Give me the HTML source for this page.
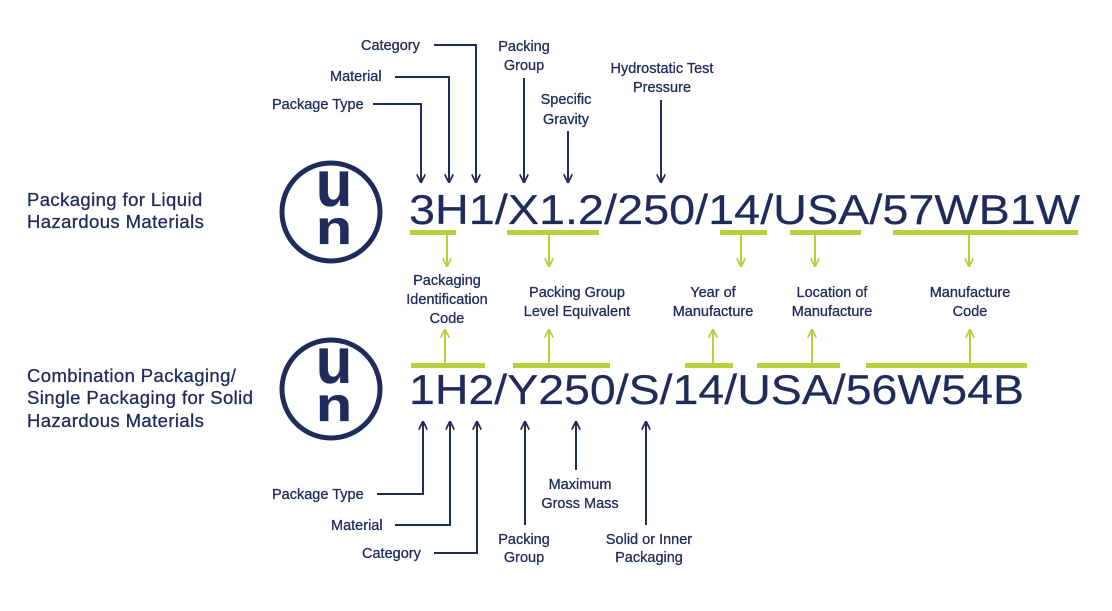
<!DOCTYPE html>
<html><head><meta charset="utf-8"><style>
html,body{margin:0;padding:0;background:#fff;}
svg{display:block;}
text{font-family:"Liberation Sans",sans-serif;fill:#1f2b5b;stroke:#1f2b5b;stroke-width:0.3;}
.l{font-size:14.5px;}
.s{font-size:18.5px;letter-spacing:0.4px;}
.c{font-size:42px;stroke-width:0.2;}
</style></head><body>
<svg width="1112" height="611" viewBox="0 0 1112 611" xmlns="http://www.w3.org/2000/svg">
<defs>
<marker id="an" viewBox="0 0 10 10" refX="9" refY="5" markerWidth="9" markerHeight="9" orient="auto" markerUnits="userSpaceOnUse"><path d="M0,0 L10,5 L0,10" fill="none" stroke="#1f2b5b" stroke-width="2"/></marker>
<marker id="ag" viewBox="0 0 10 10" refX="9" refY="5" markerWidth="9" markerHeight="9" orient="auto" markerUnits="userSpaceOnUse"><path d="M0,0 L10,5 L0,10" fill="none" stroke="#b7d03c" stroke-width="2"/></marker>
</defs>

<!-- left labels -->
<text class="s" x="27" y="206">Packaging for Liquid</text>
<text class="s" x="27" y="228">Hazardous Materials</text>
<text class="s" x="27" y="382">Combination Packaging/</text>
<text class="s" x="27" y="404">Single Packaging for Solid</text>
<text class="s" x="27" y="427">Hazardous Materials</text>

<!-- UN circles -->
<circle cx="331" cy="212" r="49" fill="none" stroke="#1f2b5b" stroke-width="5"/>
<text x="334" y="206" text-anchor="middle" font-weight="bold" font-size="54" transform="translate(334 206) scale(1.1 1.2) translate(-334 -206)">u</text>
<text x="334" y="244" text-anchor="middle" font-weight="bold" font-size="54" transform="translate(334 244) scale(1.1 0.9) translate(-334 -244)">n</text>
<circle cx="331" cy="389" r="49" fill="none" stroke="#1f2b5b" stroke-width="5"/>
<text x="334" y="383" text-anchor="middle" font-weight="bold" font-size="54" transform="translate(334 383) scale(1.1 1.2) translate(-334 -383)">u</text>
<text x="334" y="421" text-anchor="middle" font-weight="bold" font-size="54" transform="translate(334 421) scale(1.1 0.9) translate(-334 -421)">n</text>

<!-- codes -->
<text class="c" x="409" y="224" textLength="671" lengthAdjust="spacingAndGlyphs">3H1/X1.2/250/14/USA/57WB1W</text>
<text class="c" x="409" y="404" textLength="615" lengthAdjust="spacingAndGlyphs">1H2/Y250/S/14/USA/56W54B</text>

<!-- green bars -->
<g fill="#b7d03c">
<rect x="410" y="230" width="46" height="5"/>
<rect x="507" y="230" width="92" height="5"/>
<rect x="720" y="230" width="47" height="5"/>
<rect x="790" y="230" width="71" height="5"/>
<rect x="893" y="230" width="185" height="5"/>
<rect x="411" y="363" width="74" height="5"/>
<rect x="513" y="363" width="97" height="5"/>
<rect x="685" y="363" width="48" height="5"/>
<rect x="757" y="363" width="83" height="5"/>
<rect x="866" y="363" width="161" height="5"/>
</g>
<g stroke="#b7d03c" stroke-width="2" fill="none" marker-end="url(#ag)">
<line x1="447" y1="235" x2="447" y2="266"/>
<line x1="549" y1="235" x2="549" y2="266"/>
<line x1="741" y1="235" x2="741" y2="266"/>
<line x1="815" y1="235" x2="815" y2="266"/>
<line x1="969" y1="235" x2="969" y2="266"/>
<line x1="445" y1="363" x2="445" y2="330"/>
<line x1="549" y1="363" x2="549" y2="330"/>
<line x1="713" y1="363" x2="713" y2="330"/>
<line x1="812" y1="363" x2="812" y2="330"/>
<line x1="970" y1="363" x2="970" y2="330"/>
</g>
<g class="l" text-anchor="middle">
<text x="447" y="285">Packaging</text>
<text x="447" y="304">Identification</text>
<text x="447" y="323">Code</text>
<text x="577" y="297">Packing Group</text>
<text x="577" y="316">Level Equivalent</text>
<text x="713" y="297">Year of</text>
<text x="713" y="316">Manufacture</text>
<text x="832" y="297">Location of</text>
<text x="832" y="316">Manufacture</text>
<text x="970" y="297">Manufacture</text>
<text x="970" y="316">Code</text>
</g>

<!-- top navy leaders -->
<g stroke="#1f2b5b" stroke-width="2" fill="none" marker-end="url(#an)">
<polyline points="434,45 476,45 476,182"/>
<polyline points="395,77 449,77 449,182"/>
<polyline points="373,104 421,104 421,182"/>
<line x1="524" y1="78" x2="524" y2="182"/>
<line x1="568" y1="131" x2="568" y2="182"/>
<line x1="661" y1="100" x2="661" y2="182"/>
</g>
<g class="l">
<text x="361" y="50">Category</text>
<text x="330" y="81">Material</text>
<text x="272" y="109">Package Type</text>
<text x="524" y="51" text-anchor="middle">Packing</text>
<text x="524" y="70" text-anchor="middle">Group</text>
<text x="566" y="104" text-anchor="middle">Specific</text>
<text x="566" y="124" text-anchor="middle">Gravity</text>
<text x="662" y="73" text-anchor="middle">Hydrostatic Test</text>
<text x="662" y="92" text-anchor="middle">Pressure</text>
</g>

<!-- bottom navy leaders -->
<g stroke="#1f2b5b" stroke-width="2" fill="none" marker-end="url(#an)">
<polyline points="377,494 423,494 423,422"/>
<polyline points="395,525 450,525 450,422"/>
<polyline points="434,553 477,553 477,422"/>
<line x1="525" y1="525" x2="525" y2="422"/>
<line x1="576" y1="470" x2="576" y2="422"/>
<line x1="646" y1="525" x2="646" y2="422"/>
</g>
<g class="l">
<text x="272" y="499">Package Type</text>
<text x="331" y="530">Material</text>
<text x="362" y="558">Category</text>
<text x="524" y="544" text-anchor="middle">Packing</text>
<text x="524" y="562" text-anchor="middle">Group</text>
<text x="580" y="489" text-anchor="middle">Maximum</text>
<text x="580" y="508" text-anchor="middle">Gross Mass</text>
<text x="649" y="544" text-anchor="middle">Solid or Inner</text>
<text x="649" y="562" text-anchor="middle">Packaging</text>
</g>
</svg>
</body></html>
